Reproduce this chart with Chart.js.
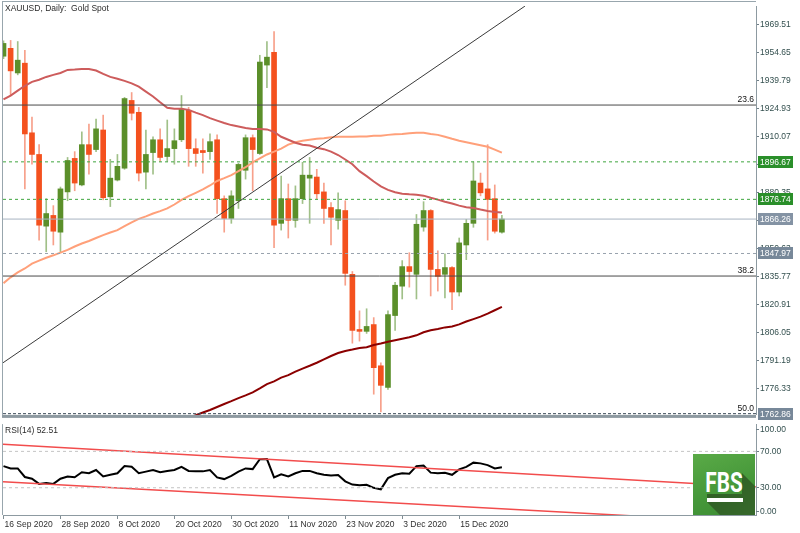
<!DOCTYPE html>
<html><head><meta charset="utf-8">
<script src="https://cdn.jsdelivr.net/npm/chart.js@4.4.1/dist/chart.umd.min.js"></script>
<style>
html,body{margin:0;padding:0;background:#fff;}
#wrap{position:relative;width:800px;height:533px;overflow:hidden;font-family:"Liberation Sans",Arial,sans-serif;}
canvas{position:absolute;left:0;}
#title{position:absolute;left:5px;top:3px;font-size:8.5px;line-height:10px;color:#2b2b2b;white-space:pre;}
#rsiLbl{position:absolute;left:5px;top:425px;font-size:8.5px;line-height:10px;color:#2b2b2b;white-space:pre;}
#logo{position:absolute;left:693px;top:454px;width:62px;height:61px;background:linear-gradient(160deg,#5aaa47 0%,#46983a 55%,#3c8c33 100%);overflow:hidden;}
#shadow{position:absolute;left:0;top:0;width:62px;height:61px;background:linear-gradient(135deg,#2b5921,#37692b);clip-path:polygon(49px 19px,62px 32px,62px 61px,27px 61px,14px 48px,14px 40px,49px 40px);}
#fbs{position:absolute;left:0;top:15px;width:62px;text-align:center;color:#fff;font:700 28px Roboto,sans-serif;line-height:28px;transform:scaleX(0.74);}
#ul{position:absolute;left:14px;top:44px;width:36px;height:4px;background:#fff;}
</style></head>
<body>
<div id="wrap">
<canvas id="main" width="800" height="421" style="top:0"></canvas>
<canvas id="rsi" width="800" height="115" style="top:418px"></canvas>
<div id="title">XAUUSD, Daily:  Gold Spot</div>
<div id="rsiLbl">RSI(14) 52.51</div>
<div id="logo"><div id="shadow"></div><div id="fbs">FBS</div><div id="ul"></div></div>
</div>
<script>
// ---------- data ----------
const xLabels = ['16 Sep 2020','28 Sep 2020','8 Oct 2020','20 Oct 2020','30 Oct 2020','11 Nov 2020','23 Nov 2020','3 Dec 2020','15 Dec 2020'];
const xLabelIdx = [0,8,16,24,32,40,48,56,64];

const open = [1952.8,1957.0,1943.9,1949.1,1912.1,1900.6,1862.5,1868.2,1859.3,1880.7,
1898.5,1884.4,1905.8,1903.2,1913.6,1878.1,1887.0,1893.3,1929.3,1923.0,
1891.2,1901.6,1908.4,1899.5,1903.7,1908.4,1924.1,1903.7,1902.7,1902.1,
1908.4,1877.1,1866.6,1876.0,1892.2,1909.5,1901.1,1948.1,1954.9,1864.0,
1877.1,1865.6,1877.1,1888.0,1888.6,1880.7,1872.4,1865.6,1870.8,1836.9,
1807.6,1806.6,1810.2,1788.3,1776.8,1815.0,1830.6,1841.0,1836.9,1862.0,
1870.8,1839.5,1836.9,1840.5,1827.5,1852.5,1864.0,1885.4,1882.3,1877.1,1859.3];
const high = [1961.0,1961.2,1960.6,1955.9,1920.4,1905.8,1877.1,1873.4,1883.3,1899.0,
1902.1,1912.6,1916.8,1919.4,1921.5,1898.0,1900.6,1930.9,1933.5,1925.6,
1913.6,1910.0,1914.2,1918.9,1914.2,1931.9,1925.6,1908.9,1908.9,1911.5,
1911.0,1878.6,1881.3,1895.9,1911.0,1911.0,1953.3,1960.6,1965.9,1889.1,
1884.9,1883.9,1896.4,1899.0,1892.7,1885.4,1875.0,1880.2,1876.0,1838.4,
1817.5,1818.6,1813.9,1789.9,1817.5,1832.7,1844.2,1848.4,1868.7,1875.5,
1871.3,1849.4,1847.8,1841.0,1856.2,1866.1,1896.7,1890.7,1905.8,1884.4,1868.2];
const low = [1951.5,1931.9,1942.9,1882.3,1895.4,1855.1,1848.9,1852.5,1848.4,1876.0,
1881.3,1883.9,1890.1,1902.1,1876.5,1872.9,1886.5,1892.7,1918.9,1886.5,
1882.3,1890.1,1896.9,1896.9,1895.4,1907.4,1894.3,1894.3,1890.7,1898.0,
1869.2,1859.3,1864.0,1871.9,1887.5,1881.3,1900.6,1936.1,1851.0,1860.4,
1856.2,1861.9,1874.5,1864.0,1877.1,1864.0,1852.5,1860.9,1831.1,1800.3,
1801.4,1805.5,1773.2,1763.8,1775.8,1807.1,1823.8,1830.1,1823.8,1859.8,
1825.4,1828.0,1824.3,1818.1,1825.4,1844.7,1861.9,1878.6,1855.1,1858.8,1858.8];
const close = [1959.6,1945.0,1950.7,1911.5,1900.6,1863.0,1869.2,1859.8,1882.3,1897.4,
1885.4,1905.8,1900.6,1914.2,1877.6,1888.0,1894.3,1930.3,1922.5,1890.7,
1900.6,1908.4,1899.0,1903.7,1907.9,1924.6,1903.7,1901.1,1901.6,1907.4,
1877.1,1866.6,1878.6,1895.3,1909.5,1903.2,1949.7,1952.3,1863.0,1877.1,
1865.6,1877.1,1889.6,1889.6,1879.7,1871.9,1867.2,1871.3,1837.4,1807.1,
1806.6,1809.2,1787.3,1777.9,1815.5,1831.1,1841.0,1838.4,1863.5,1870.8,
1839.5,1835.8,1840.5,1827.5,1853.6,1864.0,1886.5,1880.2,1876.7,1859.8,1866.26];

const maFast = [1929.8,1931.9,1934.5,1937.1,1939.2,1940.3,1941.8,1942.9,1943.9,1945.5,
1945.7,1946.0,1946.0,1945.2,1943.4,1941.8,1940.8,1939.7,1938.4,1936.6,
1934.0,1931.4,1928.3,1925.4,1924.9,1924.9,1924.3,1922.8,1921.5,1919.9,
1918.6,1917.3,1916.2,1915.5,1914.7,1914.1,1914.1,1913.9,1912.6,1910.0,
1908.4,1906.8,1905.8,1905.3,1904.2,1903.4,1902.1,1900.3,1897.9,1895.4,
1891.7,1889.1,1886.2,1883.6,1881.8,1880.5,1879.7,1879.4,1879.2,1878.7,
1877.6,1876.6,1875.5,1874.5,1873.4,1872.6,1872.1,1871.3,1870.6,1870.0,1869.8];
const maMid = [1832.2,1835.3,1837.9,1840.0,1842.6,1844.2,1845.7,1847.0,1848.4,1849.9,
1851.7,1853.3,1854.6,1856.2,1857.7,1859.1,1860.4,1862.5,1864.5,1866.4,
1867.7,1869.2,1870.5,1871.9,1874.0,1876.5,1878.4,1880.2,1882.0,1884.1,
1886.5,1888.0,1889.6,1891.7,1893.8,1896.4,1898.5,1900.6,1902.1,1903.7,
1905.8,1907.1,1907.9,1908.4,1908.9,1909.2,1909.7,1910.0,1910.0,1910.0,
1910.2,1910.2,1910.5,1910.5,1911.0,1911.3,1911.5,1911.8,1912.1,1912.1,
1911.5,1911.0,1910.0,1908.9,1907.9,1907.1,1906.3,1905.5,1904.7,1903.2,1901.6];
const maSlowStart = 26;
const maSlow = [1760.6,1762.0,1763.5,1764.8,1766.4,1768.0,1769.5,1771.1,1772.6,1774.2,
1776.3,1778.6,1780.0,1782.0,1783.3,1785.2,1786.8,1788.3,1789.9,1791.7,
1793.5,1795.1,1796.2,1796.9,1797.7,1798.2,1799.3,1800.1,1801.1,1801.9,
1802.7,1803.5,1804.5,1806.1,1807.2,1807.9,1808.7,1809.2,1810.3,1811.8,
1813.1,1814.4,1816.0,1817.8,1819.6];

const rsi = [53.8,51.2,51.2,41.8,39.9,34.2,35.2,34.2,39.9,42.4,
41.5,47.0,45.9,49.5,42.4,44.2,45.9,53.8,53.0,45.9,
47.7,49.5,47.0,48.5,49.5,53.0,48.5,48.0,48.0,49.5,
41.3,39.5,43.1,47.7,51.2,50.5,61.3,61.5,41.3,44.8,
42.4,45.9,48.5,48.5,45.9,44.2,43.4,44.0,37.0,33.5,
32.8,33.3,29.9,28.2,40.6,44.2,45.9,45.5,53.8,54.5,
46.6,45.9,46.4,44.2,50.2,53.0,57.6,56.8,54.9,51.2,52.51];

const priceTicks = [1969.51,1954.65,1939.79,1924.93,1910.07,1895.21,1880.35,1865.49,1850.63,1835.77,1820.91,1806.05,1791.19,1776.33];
const fibValues = [1926.85,1835.99,1762.86];
const fibNames = ['23.6','38.2','50.0'];
const greenLevels = [1896.67,1876.74];
const bidLevel = 1866.26;
const greyLevel = 1847.97;
const trendMain = [[-0.07,1789.9],[73.24,1979.43]];
const rsiUpper = [[-0.07,77.7],[105.69,30.7]];
const rsiLower = [[-0.07,36.5],[92,-2.5]];
const rsiLevels = [70,30];
const rsiAxisTicks = [100,70,30,0];

// ---------- config ----------
const X_MIN = -0.07, X_MAX = 105.69;
const Y_MIN = 1762.2, Y_MAX = 1979.43;
Chart.defaults.font.family = '"Liberation Sans", Arial, sans-serif';

const up = close.map((c,i)=>c>=open[i]);
const bodyCol = up.map(u=>u?'#5b8f2a':'#f4511e');
const wickCol = up.map(u=>u?'#a0c088':'#f7a08a');
const hl = v => [{x:X_MIN,y:v},{x:X_MAX,y:v}];
const pts = arr => arr.map(([x,y])=>({x,y}));
const ln = (data,color,w,extra) => Object.assign({type:'line',data,borderColor:color,borderWidth:w,pointRadius:0,fill:false,tension:0},extra||{});

const mainDeco = {
  id:'mainDeco',
  afterDatasetsDraw(chart){
    const {ctx,chartArea:a,scales:{y}} = chart;
    ctx.save();
    ctx.font = '8.5px "Liberation Sans", Arial, sans-serif';
    ctx.fillStyle = '#111';
    ctx.textAlign = 'right'; ctx.textBaseline = 'middle';
    fibValues.forEach((v,i)=>{ ctx.fillText(fibNames[i], a.right-2, y.getPixelForValue(v)-5.5); });
    ctx.restore();
  },
  afterDraw(chart){
    const {ctx,chartArea:a,scales:{y}} = chart;
    ctx.save();
    ctx.fillStyle = '#98a6ad';
    ctx.fillRect(2,1,a.right-2,1);
    ctx.fillRect(2,1,1,a.bottom-1);
    ctx.fillStyle = '#8e9aa1';
    ctx.fillRect(2,a.bottom,a.right-2,3);
    ctx.font = '8.5px "Liberation Sans", Arial, sans-serif';
    ctx.textAlign='left'; ctx.textBaseline='middle';
    const box = (v,bg)=>{
      const py = Math.round(y.getPixelForValue(v));
      ctx.fillStyle = bg; ctx.fillRect(a.right+2, py-6, 35, 12);
      ctx.fillStyle = '#fff'; ctx.fillText(v.toFixed(2), a.right+4, py+0.5);
    };
    greenLevels.forEach(v=>box(v,'#2a8f2a'));
    box(bidLevel,'#8493a4');
    box(greyLevel,'#778899');
    box(fibValues[2],'#778899');
    ctx.restore();
  }
};

const mainDatasets = [
  ln(hl(fibValues[0]),'#4a4a4a',1,{order:0}),
  ln(hl(fibValues[1]),'#4a4a4a',1,{order:0}),
  ln(hl(fibValues[2]),'#3b4a58',1,{order:0,borderDash:[3,2]}),
  ln(hl(greenLevels[0]),'#3fa63f',1,{order:0,borderDash:[3,3]}),
  ln(hl(greenLevels[1]),'#3fa63f',1,{order:0,borderDash:[3,3]}),
  ln(hl(bidLevel),'#a7b3c2',1,{order:0}),
  ln(hl(greyLevel),'#98a2ae',1,{order:0,borderDash:[3,3]}),
  ln(pts(trendMain),'#3a3a3a',1,{order:0}),
  ln(maFast.map((v,i)=>({x:i,y:v})),'#cd5c5c',2,{order:1}),
  ln(maMid.map((v,i)=>({x:i,y:v})),'#ffa07a',2,{order:1}),
  ln(maSlow.map((v,i)=>({x:i+maSlowStart,y:v})),'#8b0000',2,{order:1}),
  {type:'bar',data:close.map((c,i)=>({x:i,y:[open[i],c]})),backgroundColor:bodyCol,barThickness:5,grouped:false,minBarLength:1,borderWidth:0,order:2},
  {type:'bar',data:close.map((c,i)=>({x:i,y:[low[i],high[i]]})),backgroundColor:wickCol,barThickness:1,grouped:false,borderWidth:0,order:3}
];

new Chart(document.getElementById('main'),{
  type:'bar',
  data:{datasets:mainDatasets},
  options:{
    responsive:false,devicePixelRatio:1,animation:false,
    layout:{padding:{left:3,top:2,right:0,bottom:3}},
    plugins:{legend:{display:false},tooltip:{enabled:false}},
    scales:{
      x:{type:'linear',min:X_MIN,max:X_MAX,display:false,offset:false,bounds:'ticks'},
      y:{type:'linear',position:'right',min:Y_MIN,max:Y_MAX,
        afterFit(s){s.width=44;},
        afterBuildTicks(s){s.ticks=priceTicks.map(v=>({value:v}));},
        ticks:{callback:v=>Number(v).toFixed(2),font:{size:8.5},color:'#34504f',padding:1,autoSkip:false},
        grid:{drawOnChartArea:false,tickLength:3,color:'#6f7f87'},
        border:{color:'#8d9aa1'}}
    }
  },
  plugins:[mainDeco]
});

const rsiDeco = {
  id:'rsiDeco',
  afterDraw(chart){
    const {ctx,chartArea:a} = chart;
    ctx.save();
    ctx.fillStyle='#98a6ad';
    ctx.fillRect(2,a.top,1,a.bottom-a.top);
    ctx.font='8.5px "Liberation Sans", Arial, sans-serif';
    ctx.textAlign='left';ctx.textBaseline='middle';
    [[rsiAxisTicks[0],a.top+5],[rsiAxisTicks[3],a.bottom-4]].forEach(([v,py])=>{
      ctx.fillStyle='#6f7f87'; ctx.fillRect(a.right,Math.round(py),3,1);
      ctx.fillStyle='#34504f'; ctx.fillText(v.toFixed(2),a.right+4,py+0.5);
    });
    ctx.restore();
  }
};

new Chart(document.getElementById('rsi'),{
  type:'line',
  data:{datasets:[
    ln(hl(rsiLevels[0]),'#c4c4c4',1,{borderDash:[3,3]}),
    ln(hl(rsiLevels[1]),'#c4c4c4',1,{borderDash:[3,3]}),
    ln(pts(rsiUpper),'#f24c4c',1.5),
    ln(pts(rsiLower),'#f24c4c',1.5),
    ln(rsi.map((v,i)=>({x:i,y:v})),'#000',2)
  ]},
  options:{
    responsive:false,devicePixelRatio:1,animation:false,
    layout:{padding:{left:3,top:3,right:0,bottom:0}},
    plugins:{legend:{display:false},tooltip:{enabled:false}},
    scales:{
      x:{type:'linear',min:X_MIN,max:X_MAX,offset:false,
        afterFit(s){s.height=18;},
        afterBuildTicks(s){s.ticks=xLabelIdx.map(v=>({value:v}));},
        ticks:{callback:(v,i)=>xLabels[i],align:'start',labelOffset:1,maxRotation:0,autoSkip:false,font:{size:8.5},color:'#303030',padding:1},
        grid:{drawOnChartArea:false,tickLength:4,color:'#7f8c93'},
        border:{color:'#8d9aa1'}},
      y:{type:'linear',position:'right',min:0,max:100,
        afterFit(s){s.width=44;},
        afterBuildTicks(s){s.ticks=[rsiAxisTicks[1],rsiAxisTicks[2]].map(v=>({value:v}));},
        ticks:{callback:v=>Number(v).toFixed(2),font:{size:8.5},color:'#34504f',padding:1},
        grid:{drawOnChartArea:false,tickLength:3,color:'#6f7f87'},
        border:{color:'#8d9aa1'}}
    }
  },
  plugins:[rsiDeco]
});
</script>
</body></html>
